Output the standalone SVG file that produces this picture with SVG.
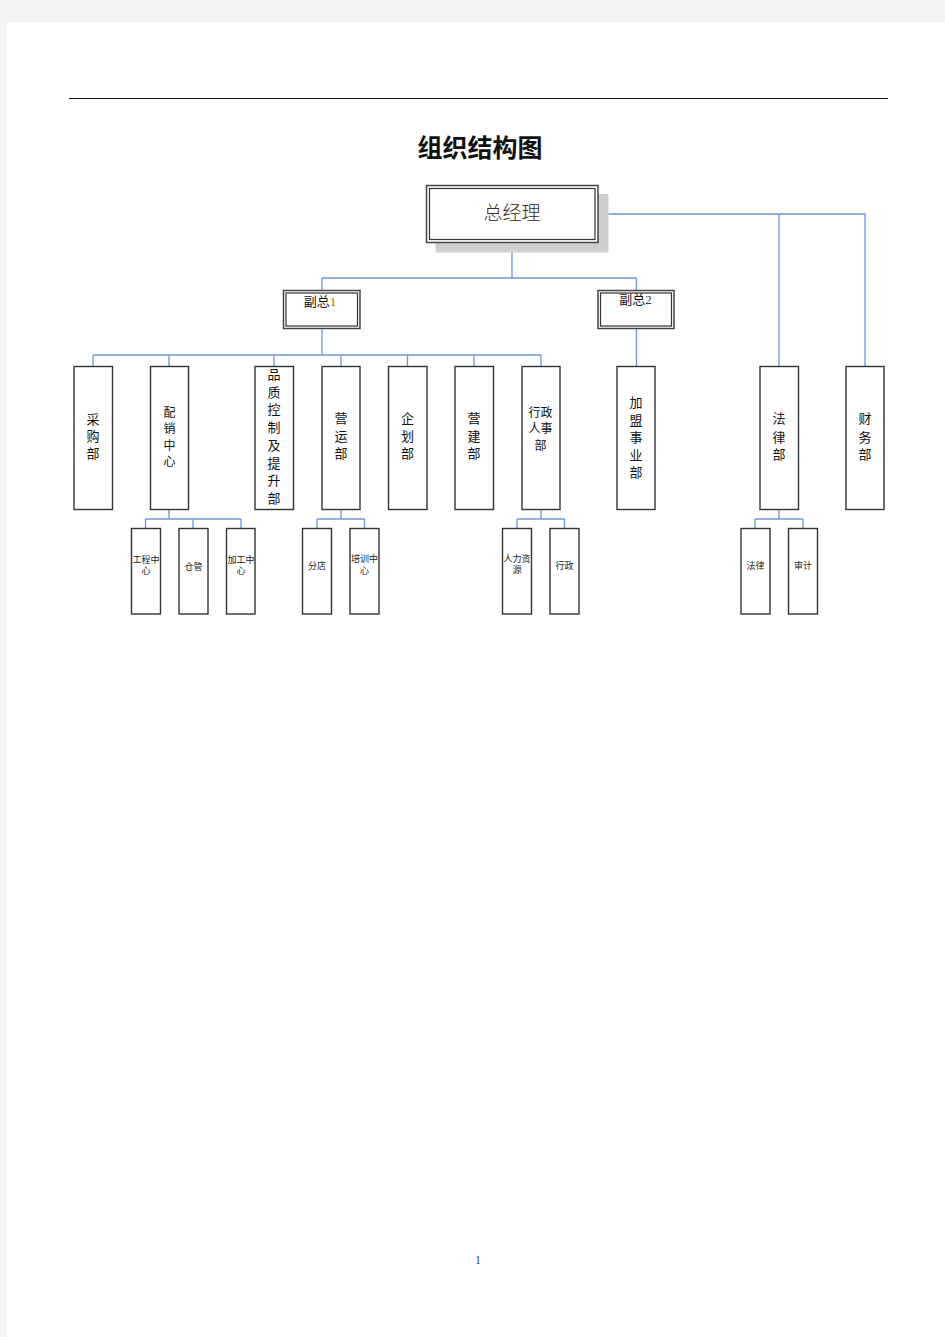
<svg xmlns="http://www.w3.org/2000/svg" width="945" height="1337" viewBox="0 0 945 1337">
<style>
.bx{fill:#fff;stroke:#333;stroke-width:1.4}
.fr{fill:#fff;stroke:#444;stroke-width:1.5}
.fi{fill:none;stroke:#333;stroke-width:1.2}
.t{font-family:"Noto Sans CJK SC","Liberation Sans",sans-serif;font-size:13px;fill:#111;text-anchor:middle}
.tn{font-size:12px}
.s{font-family:"Noto Sans CJK SC","Liberation Sans",sans-serif;font-size:9px;fill:#222;text-anchor:middle}
.c{fill:none;stroke:#6f95d6;stroke-width:1.3}
</style>
<rect x="0" y="0" width="945" height="1337" fill="#f4f4f4"/>
<rect x="7" y="22" width="938" height="1315" fill="#fff"/>
<line x1="69" y1="98.5" x2="888" y2="98.5" stroke="#111" stroke-width="1.2"/>
<text x="480" y="157" font-family="Noto Sans CJK SC,sans-serif" font-size="25" font-weight="bold" text-anchor="middle" fill="#111">组织结构图</text>

<g id="connectors">
<path class="c" d="M512,242 V278 M322,278 H636.5 M322,278 V290 M636.5,278 V290"/>
<path class="c" d="M598,214 H865 V366 M779,214 V366"/>
<path class="c" d="M322,329 V355 M93,355 H541 M93,355 V366 M169,355 V366 M274,355 V366 M341,355 V366 M407.5,355 V366 M474,355 V366 M541,355 V366"/>
<path class="c" d="M636.5,329 V366"/>
<path class="c" d="M169,509 V519 M145.5,519 H241 M145.5,519 V528 M193,519 V528 M241,519 V528"/>
<path class="c" d="M341,509 V519 M317,519 H364.5 M317,519 V528 M364.5,519 V528"/>
<path class="c" d="M541,509 V519 M517,519 H564.5 M517,519 V528 M564.5,519 V528"/>
<path class="c" d="M779,509 V519 M755,519 H803 M755,519 V528 M803,519 V528"/>
</g>

<g id="gm">
<rect x="435.5" y="194" width="173" height="58.5" fill="#cfcfcf"/>
<rect class="fr" x="426.5" y="185.5" width="171.5" height="57"/>
<rect class="fi" x="429.5" y="188.5" width="165.5" height="51"/>
<text x="512" y="220" font-family="Noto Sans CJK SC,sans-serif" font-size="19" text-anchor="middle" fill="#3a2a20" font-weight="300">总经理</text>
</g>

<g id="vp1">
<rect class="fr" x="283.5" y="290.5" width="76.5" height="38"/>
<rect class="fi" x="286" y="293" width="71.5" height="33"/>
<text x="320" y="306" font-family="Noto Sans CJK SC,sans-serif" font-size="13" text-anchor="middle" fill="#111">副总<tspan font-family="Liberation Serif,serif" fill="#b06a10">1</tspan></text>
</g>
<g id="vp2">
<rect class="fr" x="598" y="290.5" width="76" height="38"/>
<rect class="fi" x="600.5" y="293" width="71" height="33"/>
<text x="635.5" y="304" font-family="Noto Sans CJK SC,sans-serif" font-size="13" text-anchor="middle" fill="#111">副总<tspan font-family="Liberation Serif,serif" fill="#334">2</tspan></text>
</g>

<g id="caigou">
<rect class="bx" x="74" y="366.5" width="38.5" height="143"/>
<text class="t"><tspan x="93" y="424">采</tspan><tspan x="93" y="441">购</tspan><tspan x="93" y="458">部</tspan></text>
</g>
<g id="peixiao">
<rect class="bx" x="150.5" y="366.5" width="38" height="143"/>
<text class="t tn"><tspan x="169.5" y="416.5">配</tspan><tspan x="169.5" y="433">销</tspan><tspan x="169.5" y="449.5">中</tspan><tspan x="169.5" y="466">心</tspan></text>
</g>
<g id="pinzhi">
<rect class="bx" x="255" y="366.5" width="38.5" height="143"/>
<text class="t"><tspan x="274" y="379">品</tspan><tspan x="274" y="396.5">质</tspan><tspan x="274" y="414">控</tspan><tspan x="274" y="432">制</tspan><tspan x="274" y="450">及</tspan><tspan x="274" y="467.5">提</tspan><tspan x="274" y="485">升</tspan><tspan x="274" y="502.5">部</tspan></text>
</g>
<g id="yingyun">
<rect class="bx" x="322" y="366.5" width="38" height="143"/>
<text class="t"><tspan x="341" y="423">营</tspan><tspan x="341" y="441">运</tspan><tspan x="341" y="458">部</tspan></text>
</g>
<g id="qihua">
<rect class="bx" x="388.5" y="366.5" width="38.5" height="143"/>
<text class="t"><tspan x="407.5" y="423">企</tspan><tspan x="407.5" y="441">划</tspan><tspan x="407.5" y="458">部</tspan></text>
</g>
<g id="yingjian">
<rect class="bx" x="455" y="366.5" width="38.5" height="143"/>
<text class="t"><tspan x="474" y="423">营</tspan><tspan x="474" y="441">建</tspan><tspan x="474" y="458">部</tspan></text>
</g>
<g id="xingzheng">
<rect class="bx" x="522" y="366.5" width="38" height="143"/>
<text class="t tn"><tspan x="540.5" y="416.5">行政</tspan><tspan x="540.5" y="433">人事</tspan><tspan x="540.5" y="450">部</tspan></text>
</g>
<g id="jiameng">
<rect class="bx" x="617" y="366.5" width="38" height="143"/>
<text class="t"><tspan x="636" y="407">加</tspan><tspan x="636" y="424.5">盟</tspan><tspan x="636" y="442">事</tspan><tspan x="636" y="459.5">业</tspan><tspan x="636" y="477">部</tspan></text>
</g>
<g id="falv">
<rect class="bx" x="760" y="366.5" width="38.5" height="143"/>
<text class="t"><tspan x="779" y="423">法</tspan><tspan x="779" y="441.5">律</tspan><tspan x="779" y="459">部</tspan></text>
</g>
<g id="caiwu">
<rect class="bx" x="846" y="366.5" width="38" height="143"/>
<text class="t"><tspan x="865" y="423">财</tspan><tspan x="865" y="441.5">务</tspan><tspan x="865" y="459">部</tspan></text>
</g>

<g id="gongcheng">
<rect class="bx" x="131.5" y="528.5" width="29" height="85.5"/>
<text class="s"><tspan x="146" y="562.5">工程中</tspan><tspan x="146" y="573.5">心</tspan></text>
</g>
<g id="cangguan">
<rect class="bx" x="179" y="528.5" width="29" height="85.5"/>
<text class="s" x="193.5" y="569.5">仓管</text>
</g>
<g id="jiagong">
<rect class="bx" x="226.5" y="528.5" width="28.5" height="85.5"/>
<text class="s"><tspan x="241" y="562.5">加工中</tspan><tspan x="241" y="573.5">心</tspan></text>
</g>
<g id="fendian">
<rect class="bx" x="302.5" y="528.5" width="29" height="85.5"/>
<text class="s" x="317" y="568.5">分店</text>
</g>
<g id="peixun">
<rect class="bx" x="350" y="528.5" width="29" height="85.5"/>
<text class="s"><tspan x="364.5" y="562">培训中</tspan><tspan x="364.5" y="573.5">心</tspan></text>
</g>
<g id="renli">
<rect class="bx" x="502.5" y="528.5" width="29" height="85.5"/>
<text class="s"><tspan x="517" y="561.5">人力资</tspan><tspan x="517" y="572.5">源</tspan></text>
</g>
<g id="xingzheng2">
<rect class="bx" x="550" y="528.5" width="29" height="85.5"/>
<text class="s" x="564.5" y="568.5">行政</text>
</g>
<g id="falv2">
<rect class="bx" x="741" y="528.5" width="29" height="85.5"/>
<text class="s" x="755.5" y="568.5">法律</text>
</g>
<g id="shenji">
<rect class="bx" x="788.5" y="528.5" width="29" height="85.5"/>
<text class="s" x="803" y="568.5">审计</text>
</g>

<text x="478" y="1264" font-family="Liberation Serif,serif" font-size="12" text-anchor="middle" fill="#3344aa">1</text>
</svg>
